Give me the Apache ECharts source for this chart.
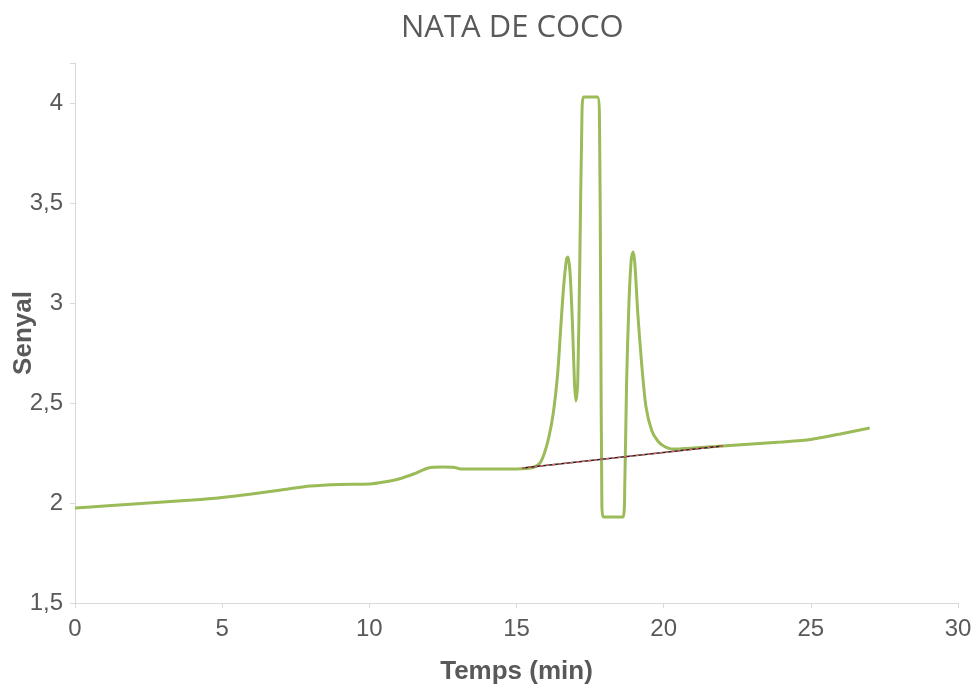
<!DOCTYPE html>
<html>
<head>
<meta charset="utf-8">
<script src="https://cdn.jsdelivr.net/npm/echarts@6/dist/echarts.min.js"></script>
<style>
html,body{margin:0;padding:0;background:#fff;}
#c{width:976px;height:688px;}
</style>
</head>
<body>
<div id="c"></div>
<script>
var timeMin = [0,1,2,3,4,5,6,7,8,9,10,10.5,11,11.5,12,12.5,12.9,13.1,14,15,15.3,15.6,15.8,15.95,16.1,16.25,16.4,16.5,16.6,16.7,16.75,16.82,16.9,16.97,17.02,17.08,17.15,17.22,17.28,17.75,17.82,17.86,17.9,17.95,18.62,18.68,18.74,18.82,18.9,18.96,19.02,19.12,19.25,19.4,19.6,19.8,20.0,20.3,21,22,23,24,25,26,27];
var signal = [1.975,1.985,1.995,2.005,2.015,2.028,2.045,2.065,2.085,2.093,2.095,2.105,2.12,2.145,2.175,2.18,2.178,2.17,2.17,2.17,2.172,2.18,2.2,2.25,2.33,2.45,2.65,2.87,3.08,3.22,3.23,3.15,2.9,2.6,2.51,2.6,3.2,3.9,4.03,4.03,3.9,3.0,2.0,1.93,1.93,2.1,2.6,3.0,3.22,3.255,3.2,2.95,2.7,2.48,2.36,2.31,2.285,2.27,2.275,2.285,2.295,2.305,2.318,2.345,2.375];
var baseTime = [15.2, 22];
var baseSignal = [2.175, 2.285];

var toPairs = function(xs, ys){ return xs.map(function(x,i){ return [x, ys[i]]; }); };
var fmt = function(v){ return String(v).replace('.', ','); };

var chart = echarts.init(document.getElementById('c'));
chart.setOption({
  animation: false,
  backgroundColor: '#ffffff',
  title: {
    text: 'NATA DE COCO',
    left: 396,
    top: 8,
    textStyle: {fontFamily: 'Open Sans', fontSize: 31, fontWeight: 'normal', color: '#595959'}
  },
  grid: {left: 75, right: 18, top: 63, bottom: 85, containLabel: false, outerBoundsMode: 'none'},
  xAxis: {
    type: 'value', min: 0, max: 30, interval: 5,
    name: 'Temps (min)', nameLocation: 'middle', nameGap: 56, nameMoveOverlap: false,
    nameTextStyle: {fontFamily: 'Liberation Sans', fontSize: 26, fontWeight: 'bold', color: '#595959'},
    axisLine: {show: true, lineStyle: {color: '#d9d9d9', width: 1}},
    axisTick: {show: true, length: 5, lineStyle: {color: '#d9d9d9'}},
    splitLine: {show: false},
    axisLabel: {fontFamily: 'Liberation Sans', fontSize: 24, color: '#595959', margin: 14, formatter: fmt}
  },
  yAxis: {
    type: 'value', min: 1.5, max: 4.2, interval: 0.5,
    name: 'Senyal', nameLocation: 'middle', nameGap: 38, nameRotate: 90, nameMoveOverlap: false,
    nameTextStyle: {fontFamily: 'Liberation Sans', fontSize: 26, fontWeight: 'bold', color: '#595959'},
    axisLine: {show: true, lineStyle: {color: '#d9d9d9', width: 1}},
    axisTick: {show: true, length: 5, lineStyle: {color: '#d9d9d9'}},
    splitLine: {show: false},
    axisLabel: {fontFamily: 'Liberation Sans', fontSize: 24, color: '#595959', margin: 12,
      formatter: function(v){ return v > 4.05 ? '' : fmt(v); }}
  },
  series: [
    {
      type: 'line', data: toPairs(timeMin, signal), showSymbol: false, smooth: 0.25,
      lineStyle: {color: '#9BBB59', width: 3}, z: 2
    },
    {
      type: 'line', data: toPairs(baseTime, baseSignal), showSymbol: false,
      lineStyle: {color: '#222222', width: 1.5}, z: 3
    },
    {
      type: 'line', data: toPairs(baseTime, baseSignal), showSymbol: false,
      lineStyle: {color: '#e06666', width: 1.5, type: [3, 3]}, z: 4
    }
  ]
});
</script>
</body>
</html>
